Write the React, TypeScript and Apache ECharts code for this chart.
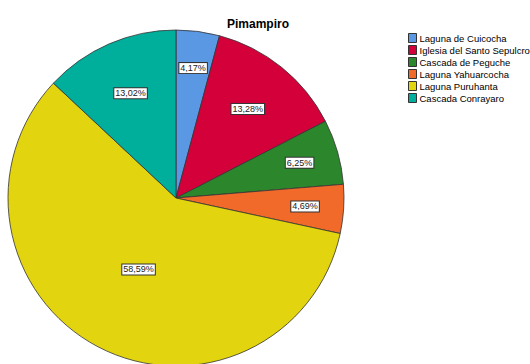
import React, { useEffect, useRef } from "react";
import * as echarts from "echarts";

const title = "Pimampiro";
const categories = [
  "Laguna de Cuicocha",
  "Iglesia del Santo Sepulcro",
  "Cascada de Peguche",
  "Laguna Yahuarcocha",
  "Laguna Puruhanta",
  "Cascada Conrayaro",
];
const percentages = [4.17, 13.28, 6.25, 4.69, 58.59, 13.02];
const colors = ["#5A98E4", "#D4003A", "#2C862C", "#F26A2A", "#E2D40E", "#00AE9C"];
// radial placement of each slice label, as a fraction of the radius
const labelRadiusRatio = [0.78, 0.68, 0.765, 0.77, 0.48, 0.68];

const CENTER: [number, number] = [176, 198];
const RADIUS = 168;

export default function App() {
  const ref = useRef<HTMLDivElement>(null);
  useEffect(() => {
    document.body.style.margin = "0";
    if (!ref.current) return;
    const chart = echarts.init(ref.current, undefined, { renderer: "svg" });
    const total = percentages.reduce((a, b) => a + b, 0);
    const cum: number[] = [];
    let acc = 0;
    percentages.forEach((v) => {
      cum.push(acc + v / 2);
      acc += v;
    });
    chart.setOption({
      animation: false,
      backgroundColor: "#ffffff",
      title: {
        text: title,
        left: 222,
        top: 13,
        textStyle: {
          fontFamily: "Liberation Sans",
          fontSize: 12,
          fontWeight: "bold",
          color: "#000",
        },
      },
      legend: {
        orient: "vertical",
        left: 408,
        top: 33,
        padding: 0,
        itemWidth: 8,
        itemHeight: 9,
        itemGap: 2,
        icon: "rect",
        itemStyle: { borderColor: "#333", borderWidth: 1 },
        textStyle: {
          fontFamily: "Liberation Sans",
          fontSize: 9.5,
          color: "#000",
          padding: [0, 0, 0, -2],
        },
        data: categories,
      },
      series: [
        {
          type: "pie",
          center: CENTER,
          radius: [0, RADIUS],
          startAngle: 90,
          clockwise: true,
          avoidLabelOverlap: false,
          itemStyle: { borderColor: "#333", borderWidth: 0.8 },
          label: {
            show: true,
            position: "inside",
            formatter: (p: any) => p.value.toFixed(2).replace(".", ",") + "%",
            fontFamily: "Liberation Sans",
            fontSize: 9,
            color: "#222",
            backgroundColor: "#fff",
            borderColor: "#333",
            borderWidth: 1,
            padding: [1, 1, 0, 1],
          },
          labelLine: { show: false },
          emphasis: { disabled: true },
          labelLayout: (params: any) => {
            const i = params.dataIndex;
            const ang = ((cum[i] / total) * 360 * Math.PI) / 180;
            const r = RADIUS * labelRadiusRatio[i];
            return {
              x: CENTER[0] + r * Math.sin(ang),
              y: CENTER[1] - r * Math.cos(ang),
              align: "center",
              verticalAlign: "middle",
            };
          },
          data: categories.map((name, i) => ({
            name,
            value: percentages[i],
            itemStyle: { color: colors[i] },
          })),
        },
      ],
    });
    return () => chart.dispose();
  }, []);
  return <div ref={ref} style={{ width: 530, height: 364 }} />;
}
